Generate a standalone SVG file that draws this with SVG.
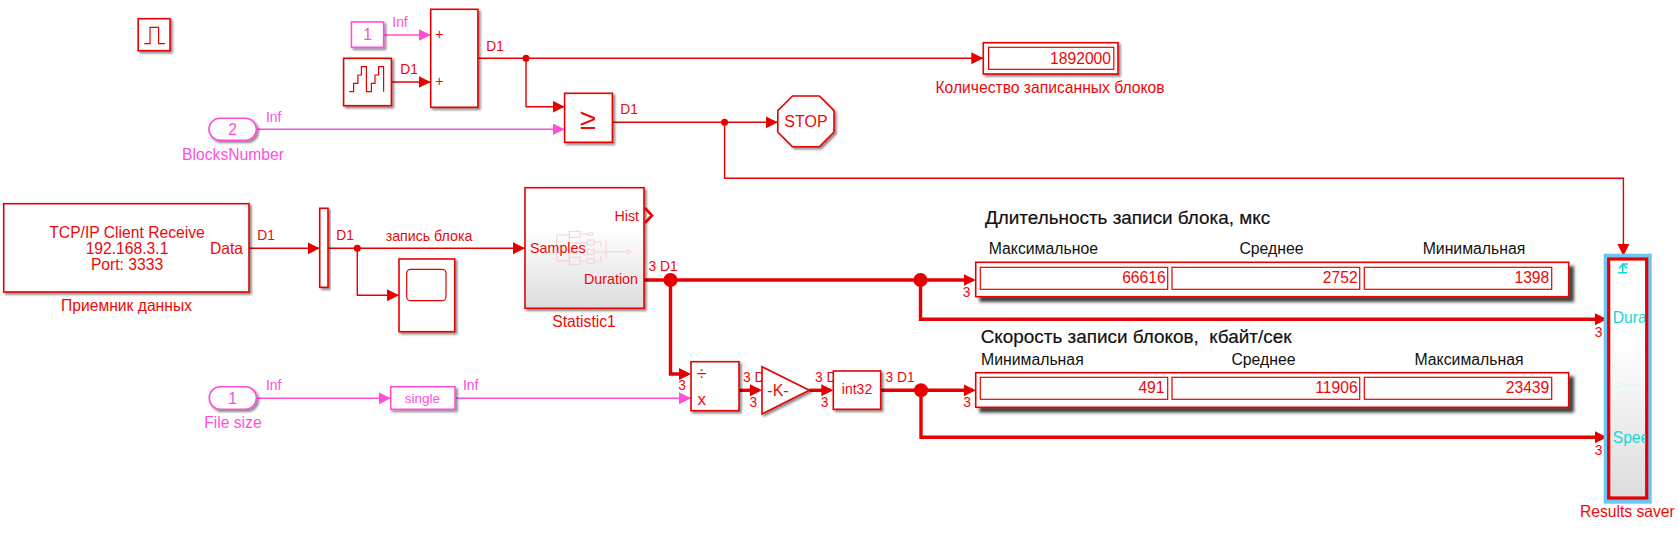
<svg xmlns="http://www.w3.org/2000/svg" width="1678" height="534" viewBox="0 0 1678 534">
<style>
text{font-family:"Liberation Sans",Arial,sans-serif;fill:#ee0808;font-size:15.66px}
.m{text-anchor:middle}.e{text-anchor:end}
.s{font-size:13.8px}.p{fill:#ff4fd8}.k{fill:#111}.h{font-size:15.8px}
.q{font-size:14.3px}
.t{font-size:18.9px;stroke:#111;stroke-width:.2px;white-space:pre}
.c{fill:#12d8d8}
.b{fill:#fff;stroke:#e60000;stroke-width:1.6}
.bp{fill:#fff;stroke:#ff4fd8;stroke-width:1.6}
.i{fill:none;stroke:#e60000;stroke-width:1.2}
.f{fill:none;stroke:#f8cfcf;stroke-width:1}
.l{fill:none;stroke:#e60000;stroke-width:1.4}
.lp{fill:none;stroke:#ff4fd8;stroke-width:1.4}
.w{fill:none;stroke:#e60000;stroke-width:3.4}
.d{fill:#e60000}
</style>
<defs>
<filter id="sh" x="-20%" y="-20%" width="150%" height="150%"><feDropShadow dx="2" dy="2" stdDeviation="1.3" flood-color="#000" flood-opacity=".45"/></filter>
<filter id="sd" x="-5%" y="-20%" width="110%" height="170%"><feDropShadow dx="4.5" dy="4.5" stdDeviation="1.8" flood-color="#222" flood-opacity=".85"/></filter>
<linearGradient id="g1" x1="0" y1="0" x2="0" y2="1"><stop offset=".35" stop-color="#fff"/><stop offset="1" stop-color="#dcdcdc"/></linearGradient>
<marker id="a" markerUnits="userSpaceOnUse" markerWidth="13" markerHeight="13" refX="12" refY="6" orient="auto"><path d="M0 0L12 6L0 12Z" fill="#e60000"/></marker>
<marker id="aw" markerUnits="userSpaceOnUse" markerWidth="13" markerHeight="13" refX="9" refY="6" orient="auto"><path d="M0 0L12 6L0 12Z" fill="#e60000"/></marker>
<marker id="ap" markerUnits="userSpaceOnUse" markerWidth="13" markerHeight="13" refX="12" refY="6" orient="auto"><path d="M0 0L12 6L0 12Z" fill="#ff4fd8"/></marker>
</defs>

<g id="connectors">
<path class="lp" marker-end="url(#ap)" d="M383.6 35H430.7"/>
<path class="l" marker-end="url(#a)" d="M391.4 82H430.7"/>
<path class="l" marker-end="url(#a)" d="M477.9 58.3H983.3"/>
<path class="l" marker-end="url(#a)" d="M526 58.3V106.7H564.6"/>
<path class="lp" marker-end="url(#ap)" d="M256.4 129.3H564.6"/>
<path class="l" marker-end="url(#a)" d="M612.4 122.3H777.8"/>
<path class="l" marker-end="url(#a)" d="M724.6 122.3V178.3H1623.4V256"/>
<path class="l" marker-end="url(#a)" d="M249 248.3H319.7"/>
<path class="l" marker-end="url(#a)" d="M328 248.3H525"/>
<path class="l" marker-end="url(#a)" d="M357.3 248.3V295.3H399"/>
<path class="w" marker-end="url(#aw)" d="M644 280H972.7"/>
<path class="w" marker-end="url(#aw)" d="M920.5 280V319.3H1604"/>
<path class="w" marker-end="url(#aw)" d="M670.5 280V374H688"/>
<path class="lp" marker-end="url(#ap)" d="M256.4 398.3H390.7"/>
<path class="lp" marker-end="url(#ap)" d="M455 398.3H691"/>
<path class="w" marker-end="url(#aw)" d="M739 390.3H759"/>
<path class="w" marker-end="url(#aw)" d="M809.3 390.3H830.3"/>
<path class="w" marker-end="url(#aw)" d="M880.7 390.3H972.7"/>
<path class="w" marker-end="url(#aw)" d="M921 390.3V437.3H1604"/>
<circle class="d" cx="526" cy="58.3" r="3.5"/>
<circle class="d" cx="724.6" cy="122.3" r="3.5"/>
<circle class="d" cx="357.3" cy="248.3" r="3.5"/>
<circle class="d" cx="670.5" cy="280" r="7"/>
<circle class="d" cx="920.5" cy="280" r="7"/>
<circle class="d" cx="921" cy="390.3" r="7"/>
<text class="s p m" x="400" y="26.7">Inf</text>
<text class="s m" x="409" y="74">D1</text>
<text class="s m" x="495" y="50.7">D1</text>
<text class="s p m" x="273.6" y="122">Inf</text>
<text class="s m" x="629" y="114">D1</text>
<text class="s m" x="266" y="240">D1</text>
<text class="s m" x="345" y="240">D1</text>
<text class="m" style="font-size:14.2px" x="429" y="241">запись блока</text>
<text class="s m" x="663" y="271">3 D1</text>
<text class="s m" x="966.7" y="296.7">3</text>
<text class="s m" x="1598.7" y="336.7">3</text>
<text class="s p m" x="273.7" y="390">Inf</text>
<text class="s p m" x="470.7" y="390">Inf</text>
<text class="s m" x="682" y="390">3</text>
<text class="s" x="743" y="381.7">3 D1</text>
<text class="s m" x="753.3" y="407.3">3</text>
<text class="s" x="815" y="381.7">3 D1</text>
<text class="s m" x="824.7" y="407.3">3</text>
<text class="s m" x="900" y="381.7">3 D1</text>
<text class="s m" x="967" y="407">3</text>
<text class="s m" x="1598.7" y="454.7">3</text>
</g>

<g id="pulse"><rect class="b" filter="url(#sh)" x="138.2" y="18.7" width="31.8" height="32"/><path class="i" d="M144.3 43.7H150V27.3H158.6V43.7H165"/></g>
<g id="constant1"><rect class="bp" filter="url(#sh)" x="351.4" y="22" width="32.2" height="25.3"/><text class="p m" x="367.5" y="40">1</text></g>
<g id="counter"><rect class="b" filter="url(#sh)" x="343.6" y="58.3" width="47.8" height="47.4"/><path class="i" d="M349.3 91.7H353.6V83.3H357.9V75H361.4V66.7H366.4V91.7H371.4V83.3H375V75H378.6V66.7H383.6V91.7"/></g>
<g id="sum"><rect class="b" filter="url(#sh)" x="430.7" y="9.3" width="47.2" height="98"/><text class="m" x="439.3" y="39" style="font-size:14px">+</text><text class="m" x="439.3" y="86" style="font-size:14px">+</text></g>
<g id="blocksNumber"><rect class="bp" filter="url(#sh)" x="209" y="118.3" width="47.4" height="22" rx="11"/><text class="p m" x="232.5" y="135">2</text><text class="p m" x="233" y="160">BlocksNumber</text></g>
<g id="compare"><rect class="b" filter="url(#sh)" x="564.6" y="93.3" width="47.8" height="49"/><text class="m" x="588" y="128.500" style="font-size:29px">≥</text></g>
<g id="stop"><path class="b" filter="url(#sh)" d="M792.5 96H819.3L834 110.7V132L819.3 146.7H792.5L777.8 132V110.7Z"/><text class="m" x="806" y="127" style="font-size:16px">STOP</text></g>
<g id="displayCount"><rect class="b" filter="url(#sh)" x="983.3" y="42.7" width="134.7" height="31.3"/><rect class="i" x="988.6" y="47.3" width="125.2" height="22"/><text class="e" x="1111" y="64">1892000</text><text class="m" x="1050" y="93">Количество записанных блоков</text></g>
<g id="tcpReceive"><rect class="b" filter="url(#sh)" x="3.7" y="203.7" width="245.3" height="88.3"/><text class="m" x="127" y="238">TCP/IP Client Receive</text><text class="m" x="127" y="254">192.168.3.1</text><text class="m" x="127" y="270">Port: 3333</text><text class="e" x="243" y="254">Data</text><text class="m" x="126.5" y="310.7">Приемник данных</text></g>
<g id="mux"><rect class="b" filter="url(#sh)" x="319.7" y="208.3" width="8.3" height="79"/></g>
<g id="scope"><rect class="b" filter="url(#sh)" x="399" y="259" width="55.7" height="72.7"/><rect class="i" x="406.7" y="269.3" width="39.3" height="31.4" rx="4"/></g>
<g id="statistic1"><rect filter="url(#sh)" x="525" y="187.7" width="119" height="120.6" fill="url(#g1)" stroke="#e60000" stroke-width="1.6"/>
<rect class="f" x="556.7" y="235" width="12.6" height="25.7"/><rect class="f" x="569.3" y="231.3" width="10.7" height="6"/><rect class="f" x="587.3" y="240" width="6.7" height="5"/><rect class="f" x="587.3" y="249.3" width="6.7" height="5"/><rect class="f" x="569.3" y="257.3" width="10.7" height="7.3"/><rect class="f" x="587.3" y="258.7" width="6.7" height="4.7"/><path class="f" d="M580 234H588M569.3 243H587M569.3 252H587M580 261H587M594 242H601V247M594 252H606M594 261H601V256M606 240V258M606 251.7H625"/><ellipse class="f" cx="590.7" cy="234" rx="2.5" ry="1.5"/><ellipse class="f" cx="628.3" cy="251.7" rx="2.5" ry="1.5"/>
<text class="q" x="530" y="252.7">Samples</text><text class="q e" x="639" y="221">Hist</text><text class="q e" x="638" y="284">Duration</text><text class="m" x="584" y="326.7">Statistic1</text><path fill="none" stroke="#e60000" stroke-width="2.6" d="M645 208L652 215.5L645 223"/></g>
<g id="divide"><rect class="b" filter="url(#sh)" x="691" y="361.7" width="48" height="49"/><text class="m" x="701.7" y="380" style="font-size:18px">÷</text><text class="m" x="701.7" y="404.5" style="font-size:17px">x</text></g>
<g id="gain"><path class="b" filter="url(#sh)" d="M762 366.7L809.3 390.3L762 414Z"/><text class="m" x="778" y="395.7" style="font-size:16px">-K-</text></g>
<g id="int32"><rect class="b" filter="url(#sh)" x="833.3" y="371" width="47.4" height="38.3"/><text class="m" x="857" y="394.3" style="font-size:14px">int32</text></g>
<g id="fileSize"><rect class="bp" filter="url(#sh)" x="209.3" y="386.7" width="47.1" height="22.6" rx="11"/><text class="p m" x="232.5" y="404">1</text><text class="p m" x="232.9" y="428.3">File size</text></g>
<g id="single"><rect class="bp" filter="url(#sh)" x="390.7" y="386.7" width="64.3" height="22.6"/><text class="p m" x="422.5" y="403" style="font-size:13.5px">single</text></g>
<g id="durationDisplay"><rect class="b" filter="url(#sd)" x="975.7" y="262.3" width="593" height="34.4"/><rect class="i" x="980.3" y="267.3" width="187.4" height="22"/><rect class="i" x="1172" y="267.3" width="187.7" height="22"/><rect class="i" x="1364.3" y="267.3" width="187.4" height="22"/><text class="e" x="1165.7" y="283.3">66616</text><text class="e" x="1357.7" y="283.3">2752</text><text class="e" x="1549.3" y="283.3">1398</text></g>
<g id="speedDisplay"><rect class="b" filter="url(#sd)" x="975.7" y="372.7" width="593" height="34.6"/><rect class="i" x="980.3" y="377.3" width="187.4" height="22"/><rect class="i" x="1172" y="377.3" width="187.7" height="22"/><rect class="i" x="1364.3" y="377.3" width="187.4" height="22"/><text class="e" x="1164.5" y="393.3">491</text><text class="e" x="1357.7" y="393.3">11906</text><text class="e" x="1549.3" y="393.3">23439</text></g>
<g id="resultsSaver"><rect x="1603.7" y="253.7" width="48" height="250" fill="#6cc6f5"/><rect x="1608.7" y="259" width="38" height="239" fill="url(#g1)" stroke="#e60000" stroke-width="3.2"/>
<path fill="none" stroke="#12d8d8" stroke-width="1.6" d="M1618 272.700H1627M1622.7 272.700V264H1628M1619 268.500L1623 264L1627 268.500"/>
<path fill="none" stroke="#d5f5f5" stroke-width="1" d="M1616 383H1622M1616 387H1622M1622 385H1640"/><rect x="1612.5" y="365.7" width="2" height="2" fill="none" stroke="#d5f5f5" stroke-width=".8"/>
<svg x="1608.5" y="300" width="37" height="160" viewBox="1608.5 300 37 160"><text class="c" x="1612.7" y="323.3">Duration</text><text class="c" x="1612.7" y="442.7">Speed</text></svg>
<text class="m" x="1627.3" y="517.3">Results saver</text></g>

<g id="annotations">
<text class="k t" x="985" y="224">Длительность записи блока, мкс</text>
<text class="k h" x="988.7" y="254">Максимальное</text>
<text class="k h m" x="1271.5" y="254">Среднее</text>
<text class="k h m" x="1474" y="254">Минимальная</text>
<text class="k t" x="980.7" y="342.7">Скорость записи блоков,  кбайт/сек</text>
<text class="k h" x="981" y="364.7">Минимальная</text>
<text class="k h m" x="1263.5" y="364.7">Среднее</text>
<text class="k h m" x="1469" y="364.7">Максимальная</text>
</g>
</svg>
